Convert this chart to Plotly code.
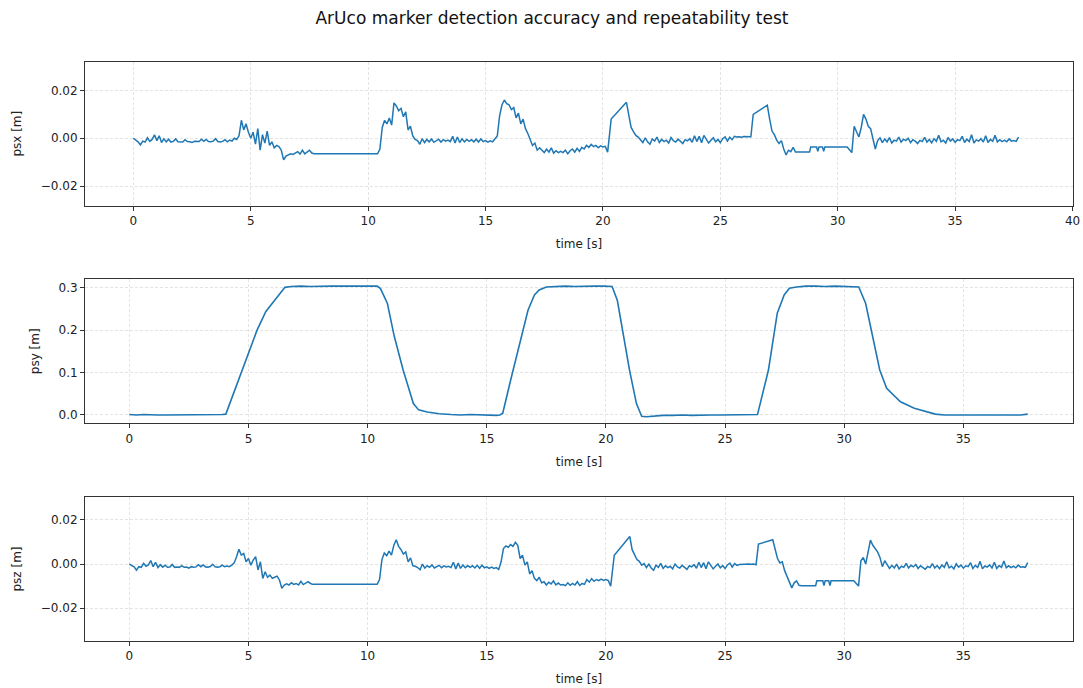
import plotly.graph_objects as go
from plotly.subplots import make_subplots

# ---------------- data ----------------
# shared time samples for psx / psz (s)
t_xz = [
    0.0, 0.1, 0.2, 0.3, 0.4, 0.5, 0.6, 0.7, 0.8, 0.9, 1.0, 1.1, 1.2, 1.3, 1.4, 1.5, 1.6, 1.7, 1.8, 1.9,
    2.0, 2.1, 2.2, 2.3, 2.4, 2.5, 2.6, 2.7, 2.8, 2.9, 3.0, 3.1, 3.2, 3.3, 3.4, 3.5, 3.6, 3.7, 3.8, 3.9, 4.0,
    4.1, 4.2, 4.3, 4.4, 4.5, 4.6, 4.7, 4.8, 4.9, 5.0, 5.1, 5.2, 5.3, 5.4, 5.5, 5.6, 5.7, 5.8, 5.9, 6.0,
    6.1, 6.2, 6.3, 6.4, 6.5, 6.6, 6.7, 6.8, 6.9, 7.0, 7.1, 7.2, 7.3, 7.4, 7.5, 7.6, 7.7,
    10.4,
    10.5, 10.6, 10.7, 10.8, 10.9, 11.0, 11.1, 11.2, 11.3, 11.4, 11.5, 11.6, 11.7, 11.8, 11.9, 12.0,
    12.1, 12.2, 12.3, 12.4, 12.5, 12.6, 12.7, 12.8, 12.9, 13.0, 13.1, 13.2, 13.3, 13.4, 13.5, 13.6,
    13.7, 13.8, 13.9, 14.0, 14.1, 14.2, 14.3, 14.4, 14.5, 14.6, 14.7, 14.8, 14.9, 15.0, 15.1, 15.2,
    15.3, 15.4, 15.5, 15.6, 15.7, 15.8, 15.9, 16.0, 16.1, 16.2, 16.3, 16.4, 16.5, 16.6, 16.7, 16.8,
    16.9, 17.0, 17.1, 17.2, 17.3,
    17.4, 17.5, 17.6, 17.7, 17.8, 17.9, 18.0, 18.1, 18.2, 18.3, 18.4, 18.5, 18.6, 18.7, 18.8, 18.9,
    19.0, 19.1, 19.2, 19.3, 19.4, 19.5, 19.6, 19.7, 19.8, 19.9, 20.0, 20.1, 20.2,
    20.35, 21.0,
    21.1, 21.2, 21.3, 21.4, 21.5, 21.6, 21.7, 21.8, 21.9, 22.0, 22.1, 22.2, 22.3, 22.4, 22.5, 22.6,
    22.7, 22.8, 22.9, 23.0, 23.1, 23.2, 23.3, 23.4, 23.5, 23.6, 23.7, 23.8, 23.9, 24.0, 24.1, 24.2,
    24.3, 24.4, 24.5, 24.6, 24.7, 24.8, 24.9, 25.0, 25.1, 25.2, 25.3, 25.4, 25.5, 25.6, 25.7, 25.8,
    25.9, 26.0, 26.1, 26.2, 26.3,
    26.4, 27.0,
    27.1, 27.2, 27.3, 27.4, 27.5, 27.6, 27.7, 27.8, 27.9, 28.0, 28.1, 28.2,
    28.8, 28.85, 29.1, 29.15, 29.2, 29.35, 29.4, 29.45, 30.4,
    30.5, 30.6, 30.7, 30.8, 30.9, 31.0, 31.1, 31.2, 31.3, 31.4, 31.5, 31.6, 31.7, 31.8, 31.9, 32.0,
    32.1, 32.2, 32.3, 32.4, 32.5, 32.6, 32.7, 32.8, 32.9, 33.0, 33.1, 33.2, 33.3, 33.4, 33.5, 33.6,
    33.7, 33.8, 33.9, 34.0, 34.1, 34.2, 34.3, 34.4, 34.5, 34.6, 34.7, 34.8, 34.9, 35.0, 35.1, 35.2,
    35.3, 35.4, 35.5, 35.6, 35.7, 35.8, 35.9, 36.0, 36.1, 36.2, 36.3, 36.4, 36.5, 36.6, 36.7, 36.8,
    36.9, 37.0, 37.1, 37.2, 37.3, 37.4, 37.5, 37.6, 37.7,
]

# psx in millimetres
psx_mm = [
    0.0, -0.8, -1.5, -2.8, -1.2, -1.6, 0.2, -1.3, -0.5, 1.4,
    -1.0, 1.0, -1.8, -0.2, -1.5, -0.4, -1.6, -1.3, -0.3, -1.5,
    -1.4, -1.6, -0.6, -1.4, -1.5, -1.8, -1.3, -1.5, -1.4, -0.4,
    -1.3, -0.5, -1.4, -1.5, -1.2, -0.2, -1.4, -1.6, -1.3, -0.6, -1.5,
    -0.8, -1.2, 0.0, -0.5, 1.0, 7.5, 3.5, 6.0, 2.5, 0.0,
    2.5, -2.5, 4.0, -5.0, 1.5, -2.0, 3.0, -3.0, -1.5, -4.0,
    -3.0, -3.5, -5.0, -9.0, -7.5, -7.0, -6.5, -6.8, -6.0, -5.6,
    -6.6, -5.0, -6.5, -5.8, -5.0, -6.2, -6.5,
    -6.5,
    -4.5, 4.5, 7.5, 6.0, 8.5, 5.5, 14.8, 13.5, 11.5, 12.5,
    9.0, 11.0, 3.5, 5.0, 1.0, -0.5, -1.0, -2.5, -0.2, -1.8,
    -0.5, -1.5, -0.3, -1.7, -1.0, -0.4, -1.6, -0.6, -1.2, -0.8,
    -1.4, 0.8, -2.0, 0.5, -1.8, -0.2, -1.5, -0.5, -1.3, -0.6,
    -1.5, -0.4, -1.6, -0.3, -1.4, -1.0, -1.6, -1.1, -1.5, -0.2,
    1.0, 9.5, 14.0, 16.0, 14.5, 14.0, 12.0, 12.8, 8.5, 10.5,
    6.0, 8.0, 4.0, 2.0, -0.5, -3.0, -2.0, -5.0, -4.0,
    -5.0, -6.0, -4.5, -5.8, -4.0, -6.2, -5.2, -6.0, -5.5, -6.0,
    -5.0, -6.5, -5.2, -4.5, -5.8, -4.2, -5.5, -3.8, -4.5, -3.0,
    -3.8, -2.6, -3.5, -3.0, -4.0, -3.2, -3.6, -3.4, -5.8,
    8.0, 15.0,
    9.5, 4.5, 2.8, 1.2, 0.5, -0.8, -1.8, 0.2, -1.5, -2.5,
    -0.3, -1.2, 0.5, -1.8, -0.5, -1.4, -0.8, -2.0, 0.3, -1.0,
    -1.6, -0.4, -1.3, -2.2, -0.6, -1.1, -0.2, -1.7, 1.0, -1.4,
    0.8, -1.9, 1.2, -0.5, -2.0, -0.8, 0.2, -1.5, -0.5, -1.8,
    -0.2, 0.6, -1.2, 0.4, -0.6, 0.8, 0.5, 0.6, 0.4, 0.7,
    0.6, 0.8, 0.6,
    10.0, 13.8,
    8.0, 3.0, 1.5, -0.8, -2.2, -1.0, -4.5, -7.0, -5.0, -5.6, -3.8, -5.8,
    -5.8, -3.7, -3.7, -5.5, -3.7, -3.7, -5.5, -3.7, -3.7,
    -5.0, -6.0, 5.0, 2.5, 0.5, 4.5, 10.0, 8.0, 5.0, 4.0,
    0.0, -4.5, -1.0, 0.2, -1.8, -0.3, -1.5, 0.3, -2.0, -0.8,
    -1.2, 0.5, -1.6, -0.4, -1.0, 0.0, -1.8, -0.6, -1.2, -2.2,
    -0.9, -1.4, 0.4, -1.6, -0.5, -1.9, -0.2, -1.3, 1.2, -1.5,
    -0.8, -2.0, 0.3, -1.2, -0.3, -1.7, -0.6, -1.0, 0.8, -1.8,
    -0.4, -1.4, 1.5, -2.0, -0.7, -1.2, -0.2, -1.6, 1.0, -1.8,
    -0.5, -1.3, 1.2, -1.5, -0.6, -1.4, -0.8, -1.5, -0.3, -1.2,
    -1.0, -1.3, 0.5,
]

# psz in millimetres
psz_mm = [
    0.0, -0.6, -1.3, -2.8, -1.2, -1.5, 0.3, -1.0, -0.4, 1.6,
    -1.2, 0.8, -1.6, -0.3, -1.4, -0.5, -1.5, -1.4, -0.2, -1.5,
    -1.3, -1.5, -0.7, -1.5, -1.4, -1.9, -1.2, -1.5, -1.3, -0.3,
    -1.2, -0.4, -1.3, -1.4, -1.1, -0.1, -1.3, -1.4, -1.2, -0.5, -1.2,
    -0.9, -1.2, -0.5, 0.5, 3.3, 6.7, 4.0, 4.8, 1.0, 2.5,
    -0.5, 1.8, 3.3, -2.7, 1.0, -6.5, -3.5, -6.0, -5.0, -6.5,
    -6.0, -5.5, -7.2, -11.0, -9.5, -9.0, -9.5, -8.5, -9.2, -8.8,
    -9.5, -7.8, -9.3, -8.6, -8.0, -8.8, -9.2,
    -9.2,
    -7.0, 2.0, 5.0, 3.8, 5.8, 4.0, 8.5, 11.0, 8.0, 6.5,
    4.5, 5.5, 1.0, 2.8, -0.8, -1.0, -1.6, -2.6, 0.0, -1.8,
    -0.8, -1.5, -0.4, -1.8, -1.2, -0.6, -1.7, -0.8, -1.3, -1.0,
    -1.6, 0.8, -2.2, 0.4, -2.0, -0.4, -1.7, -0.7, -1.5, -0.8,
    -1.8, -0.6, -1.9, -0.5, -1.7, -1.3, -2.0, -1.4, -2.0, -1.6,
    -2.5, 1.0, 7.0, 8.2, 7.6, 8.8, 8.0, 9.8, 8.5, 2.5,
    4.0, -0.5, 1.0, -4.5, -3.0, -6.5, -7.5, -6.0, -8.5,
    -8.0, -9.5, -8.2, -9.0, -7.6, -9.4, -8.6, -9.5, -9.3, -9.8,
    -8.5, -9.6, -8.8, -9.5, -8.0, -9.7, -8.8, -9.2, -7.0, -8.2,
    -6.6, -7.8, -7.0, -7.5, -6.8, -7.4, -7.0, -7.5, -10.0,
    4.0, 12.5,
    6.5, 4.0, 2.0, 1.2, -0.5, 0.2, -1.6, 0.0, -1.8, -2.8,
    -0.5, -1.5, 0.3, -2.0, -0.8, -1.6, -1.0, -2.2, 0.0, -1.3,
    -1.8, -0.6, -1.5, -2.4, -0.8, -1.3, -0.3, -1.9, 0.8, -1.6,
    0.6, -2.1, 1.0, -0.7, -2.2, -1.0, 0.0, -1.7, -0.7, -2.0,
    -0.4, 0.4, -1.4, 0.2, -0.6, -0.2, -0.1, 0.0, -0.2, 0.0,
    -0.1, 0.0, -0.3,
    9.0, 11.0,
    6.0, 2.5, 0.5, 1.0, -3.0, -5.5, -8.5, -10.8, -8.5, -7.6, -9.6, -9.8,
    -9.8, -7.6, -7.6, -9.8, -7.6, -7.6, -9.8, -7.6, -7.6,
    -9.0, -10.0, 1.5, 3.0, 0.0, 6.0, 10.8, 8.5, 6.8, 5.5,
    3.0, -1.2, 1.5, -0.5, -2.0, -0.6, -1.8, 0.0, -2.2, -1.0,
    -1.5, 0.3, -1.8, -0.6, -1.3, -0.2, -2.0, -0.8, -1.5, -2.4,
    -1.1, -1.6, 0.2, -1.8, -0.7, -2.1, -0.4, -1.5, 1.0, -1.7,
    -1.0, -2.2, 0.1, -1.4, -0.5, -1.9, -0.8, -1.2, 0.6, -2.0,
    -0.6, -1.6, 1.2, -2.2, -0.9, -1.4, -0.4, -1.8, 0.8, -2.0,
    -0.7, -1.5, 1.4, -1.7, -0.8, -1.6, -1.0, -1.7, -0.5, -1.4,
    -1.2, -1.5, 0.6,
]

# psy (m)
t_y = [
    0.0, 0.3, 0.6, 0.9, 1.2, 1.5, 1.8, 2.1, 2.4, 2.7, 3.0, 3.3, 3.6, 3.9, 4.05,
    4.3, 4.56, 5.0, 5.36, 5.73, 6.17, 6.53, 6.8, 7.2, 7.6, 8.0, 8.5, 9.0, 9.5, 10.0, 10.4,
    10.54, 10.83, 11.12, 11.49, 11.92, 12.14, 12.5, 13.0, 13.5, 13.9, 14.3, 14.7, 15.1, 15.4,
    15.55, 15.67, 16.0, 16.37, 16.73, 17.0, 17.2, 17.5, 17.9, 18.3, 18.7, 19.1, 19.5, 19.9, 20.26,
    20.48, 20.7, 20.99, 21.28, 21.5, 21.7, 22.0, 22.4, 22.8, 23.2, 23.6, 24.0, 24.4, 24.8,
    25.2, 25.6, 26.0, 26.36,
    26.82, 27.19, 27.48, 27.7, 28.0, 28.4, 28.8, 29.2, 29.6, 30.0, 30.4, 30.61,
    30.9, 31.2, 31.49, 31.78, 32.36, 32.94, 33.4, 33.82, 34.2, 34.6, 35.0, 35.4, 35.8,
    36.2, 36.6, 37.0, 37.4, 37.7,
]
psy_m = [
    0.001, 0.0, 0.001, 0.0, 0.0, 0.0, 0.0, 0.001, 0.0, 0.0, 0.0, 0.001, 0.0, 0.001, 0.002,
    0.04, 0.082, 0.149, 0.2, 0.244, 0.275, 0.301, 0.303, 0.304, 0.303, 0.304, 0.304, 0.304, 0.304, 0.304, 0.304,
    0.298, 0.263, 0.185, 0.106, 0.027, 0.012, 0.007, 0.003, 0.001, 0.0, 0.001, 0.0, 0.0, -0.001,
    0.0, 0.004, 0.082, 0.169, 0.247, 0.283, 0.295, 0.302, 0.303, 0.304, 0.303, 0.304, 0.304, 0.304, 0.303,
    0.27, 0.2, 0.106, 0.027, -0.003, -0.004, -0.002, -0.001, -0.001, 0.0, -0.001, 0.0, 0.0, 0.0,
    0.0, 0.0, 0.0, 0.001,
    0.106, 0.24, 0.283, 0.299, 0.302, 0.304, 0.304, 0.303, 0.304, 0.303, 0.303, 0.302,
    0.263, 0.185, 0.106, 0.063, 0.031, 0.016, 0.008, 0.002, 0.0, 0.0, 0.0, 0.001, 0.0,
    0.0, 0.001, 0.0, 0.0, 0.002,
]

assert len(t_xz) == len(psx_mm) == len(psz_mm), (len(t_xz), len(psx_mm), len(psz_mm))
assert len(t_y) == len(psy_m)

psx_m = [v / 1000.0 for v in psx_mm]
psz_m = [v / 1000.0 for v in psz_mm]

# ---------------- figure ----------------
W, H = 1083, 688
MT, MB, ML, MR = 40, 40, 85, 10
PH = H - MT - MB

def dom(top_px, bot_px):
    return [1 - (bot_px - MT) / PH, 1 - (top_px - MT) / PH]

fig = make_subplots(rows=3, cols=1)
blue = "#1f77b4"
fig.add_trace(go.Scatter(x=t_xz, y=psx_m, mode="lines", line=dict(color=blue, width=1.5), showlegend=False), row=1, col=1)
fig.add_trace(go.Scatter(x=t_y, y=psy_m, mode="lines", line=dict(color=blue, width=1.6), showlegend=False), row=2, col=1)
fig.add_trace(go.Scatter(x=t_xz, y=psz_m, mode="lines", line=dict(color=blue, width=1.5), showlegend=False), row=3, col=1)

font_family = "DejaVu Sans"
tick_font = dict(family=font_family, size=12, color="#222")
title_font = dict(family=font_family, size=12, color="#222")

common_axis = dict(
    showline=True, mirror=True, linecolor="#333", linewidth=1,
    ticks="outside", ticklen=4, tickwidth=1, tickcolor="#333",
    showgrid=True, gridcolor="#e4e4e4", gridwidth=0.7, griddash="3px,2px",
    zeroline=False, tickfont=tick_font, automargin=False,
)

domains = [dom(61.7, 205.7), dom(279.3, 423.3), dom(497.3, 640.7)]
xranges = [[-2.06, 40.02], [-1.86, 39.6], [-1.86, 39.6]]
xticks = [[0, 5, 10, 15, 20, 25, 30, 35, 40], [0, 5, 10, 15, 20, 25, 30, 35], [0, 5, 10, 15, 20, 25, 30, 35]]
yranges = [[-0.0282, 0.0320], [-0.0196, 0.320], [-0.0347, 0.0302]]
yticks = [[-0.02, 0.0, 0.02], [0.0, 0.1, 0.2, 0.3], [-0.02, 0.0, 0.02]]
yfmt = [".2f", ".1f", ".2f"]
ytitles = ["psx [m]", "psy [m]", "psz [m]"]

for i in range(3):
    xa = "xaxis" if i == 0 else f"xaxis{i+1}"
    ya = "yaxis" if i == 0 else f"yaxis{i+1}"
    fig.layout[xa].update(
        domain=[0, 1], range=xranges[i], tickvals=xticks[i], ticktext=[str(v) for v in xticks[i]],
        title=dict(text="time [s]", font=title_font, standoff=12), **common_axis,
    )
    fig.layout[ya].update(
        domain=domains[i], range=yranges[i], tickvals=yticks[i], tickformat=yfmt[i],
        title=dict(text=ytitles[i], font=title_font, standoff=16), **common_axis,
    )

fig.update_layout(
    width=W, height=H,
    margin=dict(l=ML, r=MR, t=MT, b=MB),
    paper_bgcolor="white", plot_bgcolor="white",
    font=dict(family=font_family, color="#222"),
    title=dict(
        text="ArUco marker detection accuracy and repeatability test",
        x=552 / W, xref="container", xanchor="center",
        y=1 - 18 / H, yref="container", yanchor="middle",
        font=dict(family=font_family, size=17, color="#111"),
    ),
)

fig.write_html("out.html")
